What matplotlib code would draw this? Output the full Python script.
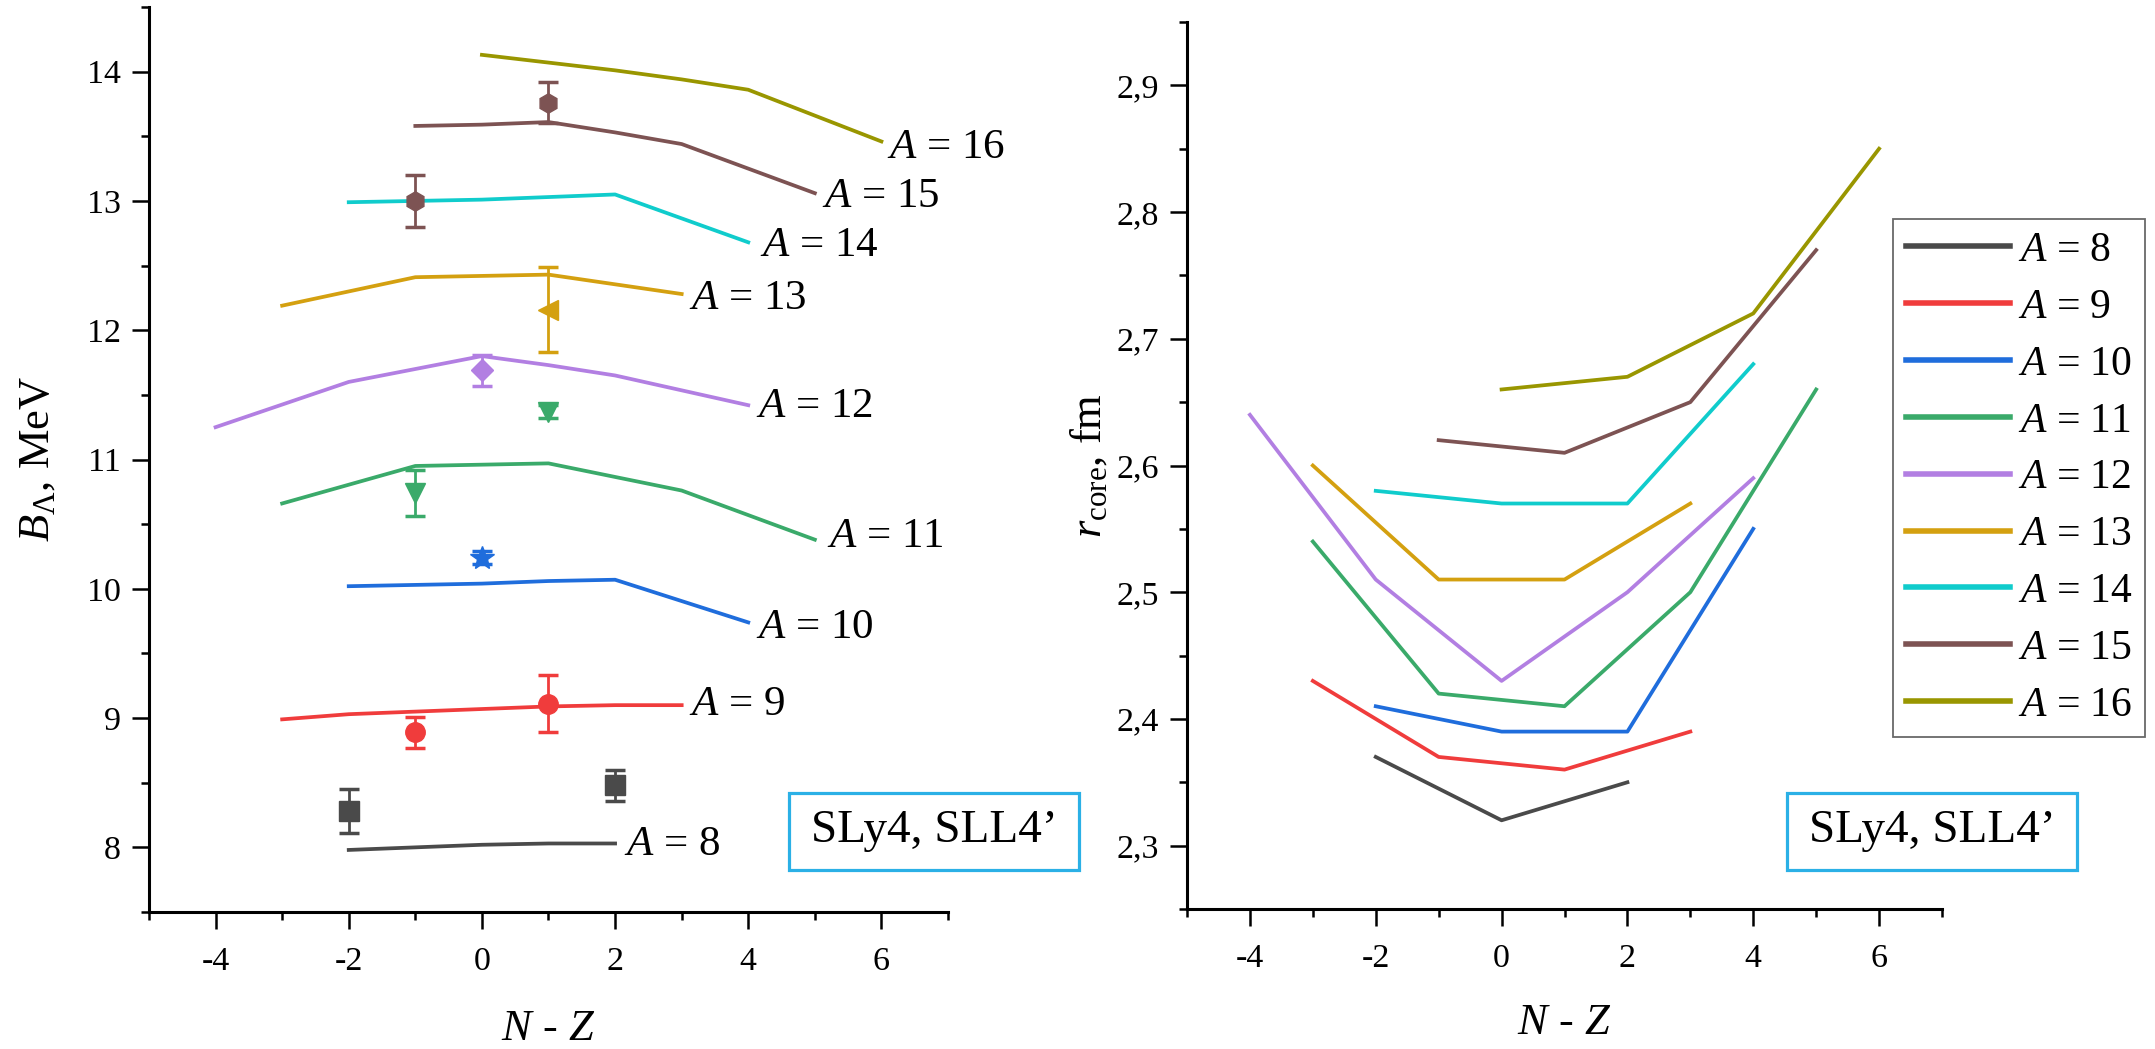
import matplotlib
matplotlib.use("Agg")
import matplotlib.pyplot as plt
from matplotlib.patches import Rectangle
from matplotlib.ticker import MultipleLocator, FixedLocator, FuncFormatter

plt.rcParams['font.family'] = ['Liberation Serif', 'DejaVu Serif']
plt.rcParams['mathtext.fontset'] = 'custom'
plt.rcParams['mathtext.rm'] = 'Liberation Serif'
plt.rcParams['mathtext.it'] = 'Liberation Serif:italic'
plt.rcParams['axes.unicode_minus'] = False

# mass numbers and colours
A_values = [8, 9, 10, 11, 12, 13, 14, 15, 16]
colors = ['#4a4a4a', '#f03c3c', '#1f6ddc', '#3aaa6a', '#b27fe2',
          '#d4a010', '#10cccc', '#7d5353', '#999600']

# B_Lambda (MeV) vs N-Z, calculated
bl_x = [[-2, -1, 0, 1, 2],
        [-3, -2, -1, 0, 1, 2, 3],
        [-2, -1, 0, 1, 2, 4],
        [-3, -1, 0, 1, 3, 5],
        [-4, -2, 0, 1, 2, 4],
        [-3, -1, 0, 1, 3],
        [-2, 0, 1, 2, 4],
        [-1, 0, 1, 2, 3, 5],
        [0, 2, 3, 4, 6]]
bl_y = [[7.98, 8.00, 8.02, 8.03, 8.03],
        [8.99, 9.03, 9.05, 9.07, 9.09, 9.10, 9.10],
        [10.02, 10.03, 10.04, 10.06, 10.07, 9.74],
        [10.66, 10.95, 10.96, 10.97, 10.76, 10.38],
        [11.25, 11.60, 11.80, 11.73, 11.65, 11.42],
        [12.19, 12.41, 12.42, 12.43, 12.28],
        [12.99, 13.01, 13.03, 13.05, 12.68],
        [13.58, 13.59, 13.61, 13.53, 13.44, 13.06],
        [14.13, 14.01, 13.94, 13.86, 13.46]]

# experimental B_Lambda with errors
exp_A = [8, 9, 10, 11, 12, 13, 15]
exp_x = [[-2, 2], [-1, 1], [0], [-1, 1], [0], [1], [-1, 1]]
exp_y = [[8.28, 8.48], [8.89, 9.11], [10.24], [10.74, 11.37], [11.69], [12.16], [13.00, 13.76]]
exp_err = [[0.17, 0.12], [0.12, 0.22], [0.05], [0.18, 0.05], [0.12], [0.33], [0.20, 0.16]]
exp_marker = ['s', 'o', '*', 'v', 'D', '<', 'h']

# r_core (fm) vs N-Z
rc_x = [[-2, 0, 2],
        [-3, -1, 1, 3],
        [-2, 0, 2, 4],
        [-3, -1, 1, 3, 5],
        [-4, -2, 0, 2, 4],
        [-3, -1, 1, 3],
        [-2, 0, 2, 4],
        [-1, 1, 3, 5],
        [0, 2, 4, 6]]
rc_y = [[2.37, 2.32, 2.35],
        [2.43, 2.37, 2.36, 2.39],
        [2.41, 2.39, 2.39, 2.55],
        [2.54, 2.42, 2.41, 2.50, 2.66],
        [2.64, 2.51, 2.43, 2.50, 2.59],
        [2.60, 2.51, 2.51, 2.57],
        [2.58, 2.57, 2.57, 2.68],
        [2.62, 2.61, 2.65, 2.77],
        [2.66, 2.67, 2.72, 2.85]]

# label offsets from line end (left panel)
lab_dx = [0.14, 0.11, 0.12, 0.19, 0.12, 0.11, 0.18, 0.11, 0.09]
lab_dy = [-0.01, 0.0, -0.04, 0.02, -0.01, -0.04, -0.03, -0.03, -0.05]

W, H = 2155, 1049
fig = plt.figure(figsize=(W / 100, H / 100), dpi=100)
ax1 = fig.add_axes([149 / W, 1 - 912 / H, (948 - 149) / W, (912 - 7) / H])
ax2 = fig.add_axes([1187 / W, 1 - 909 / H, (1942 - 1187) / W, (909 - 22) / H])

lw = 2.7
for i, A in enumerate(A_values):
    ax1.plot(bl_x[i], bl_y[i], color=colors[i], lw=lw, zorder=2)
    ax1.text(bl_x[i][-1] + lab_dx[i], bl_y[i][-1] + lab_dy[i], r'$\mathit{A}$ = %d' % A,
             fontsize=31, ha='left', va='center')
    ax2.plot(rc_x[i], rc_y[i], color=colors[i], lw=lw, label=r'$\mathit{A}$ = %d' % A)

for j, A in enumerate(exp_A):
    c = colors[A_values.index(A)]
    ms = 18 if exp_marker[j] == '*' else (11 if exp_marker[j] == 'D' else 14)
    ax1.errorbar(exp_x[j], exp_y[j], yerr=exp_err[j], fmt=exp_marker[j], color=c,
                 ms=ms, capsize=7, elinewidth=2, capthick=2.5, zorder=3)

for ax in (ax1, ax2):
    ax.set_xlim(-5, 7)
    ax.xaxis.set_major_locator(MultipleLocator(2))
    ax.xaxis.set_minor_locator(MultipleLocator(1))
    ax.spines['top'].set_visible(False)
    ax.spines['right'].set_visible(False)
    ax.spines['left'].set_linewidth(2.2)
    ax.spines['bottom'].set_linewidth(2.2)
    ax.tick_params(which='major', direction='out', length=12.5, width=1.8, labelsize=24.5, pad=8)
    ax.tick_params(which='minor', direction='out', length=6, width=1.8)
    ax.tick_params(axis='x', which='major', pad=12)
    ax.set_xlabel(r'$\mathit{N}$ - $\mathit{Z}$', fontsize=32, va='center')
    ax.xaxis.set_label_coords(0.5, -0.129)

ax1.set_ylim(7.5, 14.5)
ax1.yaxis.set_major_locator(MultipleLocator(1))
ax1.yaxis.set_minor_locator(MultipleLocator(0.5))
ax1.set_ylabel(r'$\mathit{B}_\Lambda$, MeV', fontsize=32, va='center')
ax1.yaxis.set_label_coords(-0.139, 0.5)

ax2.set_ylim(2.25, 2.95)
ax2.yaxis.set_major_locator(FixedLocator([2.3, 2.4, 2.5, 2.6, 2.7, 2.8, 2.9]))
ax2.yaxis.set_minor_locator(FixedLocator([2.25, 2.35, 2.45, 2.55, 2.65, 2.75, 2.85, 2.95]))
ax2.yaxis.set_major_formatter(FuncFormatter(lambda v, p: ('%.1f' % v).replace('.', ',')))
ax2.set_ylabel(r'$\mathit{r}_\mathrm{core}$, fm', fontsize=32, va='center')
ax2.yaxis.set_label_coords(-0.13, 0.5)

leg = ax2.legend(loc='upper left', bbox_to_anchor=(1893 / W, 1 - 219 / H),
                 bbox_transform=fig.transFigure, fontsize=30, frameon=True, fancybox=False,
                 handlelength=2.5, handletextpad=0.2, borderpad=0.3, labelspacing=0.44,
                 borderaxespad=0)
leg.get_frame().set_edgecolor('#444444')
leg.get_frame().set_linewidth(1.3)
for h in leg.get_lines():
    h.set_linewidth(4)

# "SLy4, SLL4'" boxes
for x0 in (789, 1787):
    fig.add_artist(Rectangle((x0 / W, 1 - 870 / H), 290 / W, 77 / H, transform=fig.transFigure,
                             fill=False, edgecolor='#2bb0e6', lw=2.3))
    fig.text((x0 + 145) / W, 1 - 831 / H, 'SLy4, SLL4\u2019', fontsize=34, ha='center', va='center')

fig.savefig('out.png', dpi=100)
